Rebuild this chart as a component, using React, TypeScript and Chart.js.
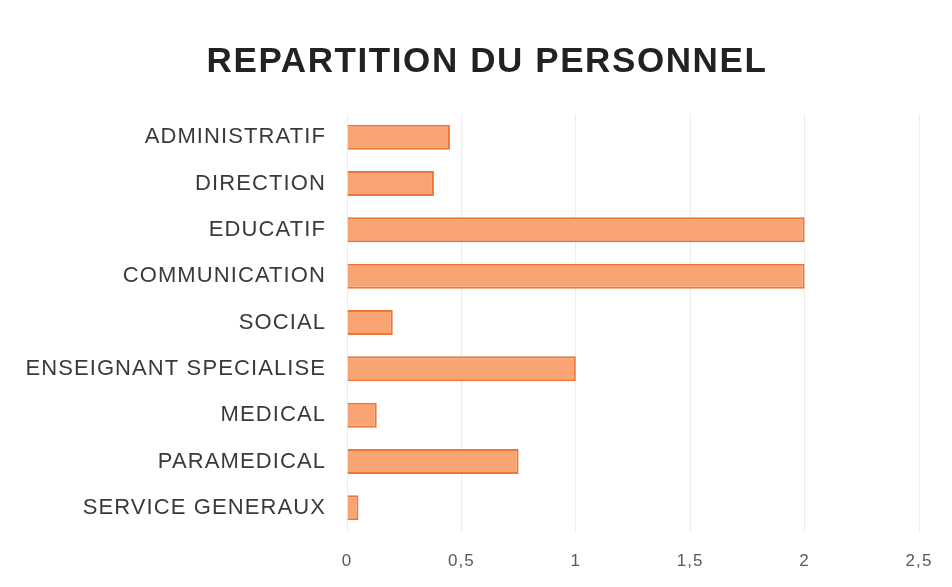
import React, { useEffect, useRef } from "react";
import { Chart, registerables } from "chart.js";

Chart.register(...registerables);

const categories = [
  "ADMINISTRATIF",
  "DIRECTION",
  "EDUCATIF",
  "COMMUNICATION",
  "SOCIAL",
  "ENSEIGNANT SPECIALISE",
  "MEDICAL",
  "PARAMEDICAL",
  "SERVICE GENERAUX",
];
const values = [0.45, 0.38, 2, 2, 0.2, 1, 0.13, 0.75, 0.05];
const chartTitle = "REPARTITION DU PERSONNEL";

const titlePlugin = {
  id: "spacedTitle",
  beforeDraw(chart: any) {
    (chart.ctx as any).letterSpacing = "1.1px";
  },
  afterDraw(chart: any) {
    const ctx = chart.ctx;
    ctx.save();
    ctx.font = "bold 35px 'Liberation Sans', Arial";
    ctx.fillStyle = "#222222";
    (ctx as any).letterSpacing = "1.6px";
    ctx.textAlign = "center";
    ctx.textBaseline = "middle";
    ctx.fillText(chartTitle, 487, 62);
    ctx.restore();
    (ctx as any).letterSpacing = "0px";
  },
};

export default function App() {
  const ref = useRef<HTMLCanvasElement>(null);
  useEffect(() => {
    document.body.style.margin = "0";
    const chart = new Chart(ref.current!, {
      type: "bar",
      data: {
        labels: categories,
        datasets: [
          {
            data: values,
            backgroundColor: "#F9A573",
            borderColor: "#EC7638",
            borderWidth: 2,
            categoryPercentage: 1,
            barPercentage: 0.54,
          },
        ],
      },
      plugins: [titlePlugin],
      options: {
        indexAxis: "y",
        animation: false,
        responsive: false,
        layout: { padding: { left: 18, right: 33, top: 114, bottom: 0 } },
        plugins: {
          legend: { display: false },
          tooltip: { enabled: false },
          title: { display: false },
        },
        scales: {
          x: {
            min: 0,
            max: 2.5,
            ticks: {
              stepSize: 0.5,
              color: "#595959",
              font: { family: "Liberation Sans, Arial", size: 17 },
              padding: 20,
              callback: (v: any) => String(v).replace(".", ","),
            },
            grid: { color: "#ececec", drawTicks: false },
            border: { display: false },
            afterFit: (s: any) => {
              s.height = 56;
            },
          },
          y: {
            ticks: {
              color: "#3a3a3a",
              font: { family: "Liberation Sans, Arial", size: 22 },
              padding: 13,
            },
            grid: { display: false },
            border: { display: false },
            afterFit: (s: any) => {
              s.width = 329;
            },
          },
        },
      },
    });
    return () => chart.destroy();
  }, []);
  return <canvas ref={ref} width={952} height={587} style={{ display: "block" }} />;
}
